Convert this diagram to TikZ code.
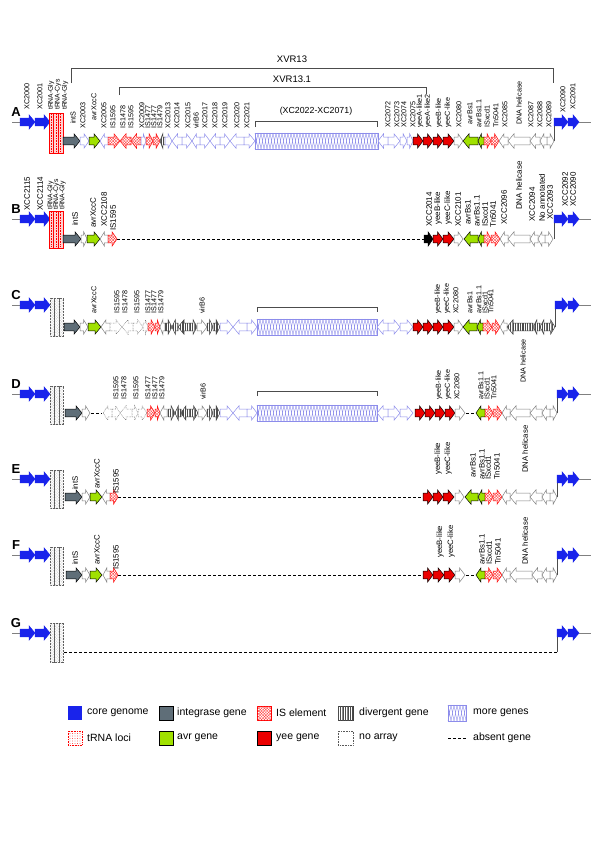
\documentclass[tikz,border=0pt]{standalone}
\usepackage{fontspec}
\setmainfont{Liberation Sans}
\usetikzlibrary{patterns,patterns.meta}
\definecolor{coreblue}{RGB}{25,35,235}
\definecolor{intgray}{RGB}{95,110,120}
\definecolor{avrgreen}{RGB}{160,225,0}
\definecolor{yeered}{RGB}{235,0,0}
\definecolor{lbblue}{RGB}{140,140,235}
\newcounter{lc}
\def\lfs{7}
\newcommand\gn[4][]{%
  \pgfmathsetmacro\gnd{(#3)-(#2)}%
  \pgfmathsetmacro\gnh{(#3)-ifthenelse(abs(\gnd)<11,0.55*\gnd,6*sign(\gnd))}%
  \draw[gene,#1] (#2,#4-3.8) -- (\gnh,#4-3.8) -- (\gnh,#4-7.2) -- (#3,#4) -- (\gnh,#4+7.2) -- (\gnh,#4+3.8) -- (#2,#4+3.8) -- cycle;}
\newcommand\lab[3]{\stepcounter{lc}\node[lbl] (lab\thelc) at (#1,#2) {#3};}
\newcommand\moregenes[3]{%
  \pgfmathtruncatemacro\mgn{((#2)-(#1))/3-1}%
  \foreach \i in {0,...,\mgn}{\draw[lbblue,line width=0.4pt] ({#1+3*\i},#3-8) -- ({#1+3*\i+3},#3+8) ({#1+3*\i},#3+8) -- ({#1+3*\i+3},#3-8);}%
  \draw[lbblue,line width=0.5pt] (#1,#3-8) rectangle (#2,#3+8);}
\newcommand\trnabox[3]{%
  \foreach \k in {0,1,2}{\draw[red,fill=red!18,line width=0.6pt] ({#1+\k*4.67},#2) rectangle ({#1+\k*4.67+4.67},#3);
    \draw[red,densely dotted,line width=0.6pt] ({#1+\k*4.67+2.33},#2+1) -- ({#1+\k*4.67+2.33},#3-1);}}
\newcommand\noarray[3]{%
  \foreach \k in {0,1,2}{\draw[gray!70!black,densely dotted,line width=0.5pt,postaction={pattern={Lines[angle=60,distance=1.4pt,line width=0.3pt]},pattern color=gray!80}] ({#1+\k*4.5},#2) rectangle ({#1+\k*4.5+4.5},#3);}}
\newcommand\corerow[4]{% letter, core y, gene y, right x
  \node[letter] (let#1) at (16,#2-10) {#1};
  \draw[gray,line width=0.5pt] (12,#2) -- (20,#2);
  \gn[gcore]{20}{35}{#2}\gn[gcore]{35}{50}{#2}
  \draw[gray!60!black,line width=0.6pt] (#4,#3) -- (#4,#2);
  \gn[gcore]{#4}{568}{#2}\gn[gcore]{568}{579}{#2}
  \draw[gray,line width=0.5pt] (579,#2) -- (591,#2);}
\begin{document}
\begin{tikzpicture}[x=1pt,y=-1pt,
  gene/.style={line width=0.5pt,line join=miter},
  gcore/.style={fill=coreblue,draw=coreblue},
  gint/.style={fill=intgray,draw=black},
  gavr/.style={fill=avrgreen,draw=black},
  gyee/.style={fill=yeered,draw=black},
  gblk/.style={fill=black,draw=black},
  gwh/.style={fill=white,draw=gray},
  glb/.style={fill=white,draw=lbblue},
  gdot/.style={fill=white,draw=gray!70!black,densely dotted},
  gis/.style={fill=white,draw=red,postaction={pattern={Lines[angle=45,distance=2pt,line width=0.3pt]},pattern color=red!85},postaction={pattern={Lines[angle=-45,distance=2pt,line width=0.3pt]},pattern color=red!85}},
  gdiv/.style={fill=white,draw=black!75,postaction={pattern={Lines[angle=90,distance=1.7pt,line width=0.35pt]},pattern color=black!70}},
  lbl/.style={rotate=90,anchor=west,inner sep=0pt,font=\fontsize{\lfs}{\lfs}\selectfont},
  letter/.style={font=\fontsize{13}{13}\selectfont\bfseries,inner sep=0pt},
  absent/.style={dash pattern=on 3pt off 2pt,line width=0.7pt},
  brk/.style={draw=gray!60!black,line width=0.6pt},
  legtext/.style={anchor=west,inner sep=0pt,font=\fontsize{10.5}{11}\selectfont}]
\useasboundingbox (0,0) rectangle (600,851);
\fill[white] (0,0) rectangle (600,851);

% ---------- brackets row A
\draw[brk] (71,83) -- (71,68) -- (553,68) -- (553,83);
\node[font=\fontsize{9.5}{10}\selectfont] (xvr13) at (292,59) {XVR13};
\draw[brk] (119,95) -- (119,87) -- (426,87) -- (426,94);
\node[font=\fontsize{9.5}{10}\selectfont] (xvr131) at (292,79) {XVR13.1};
\draw[brk] (255,127) -- (255,121) -- (377,121) -- (377,127);
\node[font=\fontsize{8.8}{9}\selectfont] (brA) at (316,111) {(XC2022-XC2071)};

% ---------- Row A
\def\lfs{6.8}
\foreach \x/\y/\t in {51/110/tRNA-Gly, 58/110/tRNA-Cys, 65/110/tRNA-Gly}{\lab{\x}{\y}{\t}}
\def\lfs{7.2}
\corerow{A}{122}{141}{554}
\trnabox{49}{113}{153}
\moregenes{255}{378}{141}
\foreach \s/\a/\b in {gint/63/80, glb/80/89, gavr/89/100, glb/108/100, gis/108/120, gis/131/120, gis/141/131, glb/141/146, gis/146/153, gis/153/160, gdiv/165/160, glb/165/172, glb/182/172, glb/182/192, glb/200/192, glb/200/210, glb/220/210, glb/220/230, glb/244/230, glb/244/255, glb/388/378, glb/388/400, glb/400/407, glb/407/413, gyee/413/423, gyee/423/433, gyee/433/443, gyee/443/454, gwh/454/463, gavr/478/463, gavr/484/478, gis/484/491, gis/491/499, gwh/508/499, gwh/530/508, gwh/540/530, gwh/547/540, gwh/547/554}{\gn[\s]{\a}{\b}{141}}
\foreach \x/\y/\t in {27/110/XC2000, 40/110/XC2001, 73/124/intS, 83/129/XC2003, 94/121/avrXccC, 104/129/XC2005, 113/129/IS1595, 123/129/IS1478, 131/129/IS1595, 142/129/XC2009, 148/129/IS1477, 154/129/IS1477, 160/129/IS1479, 168/129/XC2013, 177/129/XC2014, 188/129/XC2015, 196/129/virB6, 205/129/XC2017, 215/129/XC2018, 225/129/XC2019, 237/129/XC2020, 247/129/XC2021, 388/128/XC2072, 397/128/XC2073, 404/128/XC2074, 413/128/XC2075, 420/128/yeeA-like1, 428/128/yeeA-like2, 439/128/yeeB-like, 448/128/yeeC-like, 459/128/XC2080, 470/125/avrBs1, 479/128/avrBs1.1, 487/128/ISxcd1, 496/128/Tn5041, 505/128/XC2085, 519/125/DNA helicase, 531/128/XC2087, 540/128/XC2088, 549/128/XC2089, 563/113/XC2090, 573/110/XC2091}{\lab{\x}{\y}{\t}}

% ---------- Row B
\def\lfs{6.8}
\foreach \x/\y/\t in {50.5/210/tRNA-Gly, 56.5/210/tRNA-Cys, 62.5/210/tRNA-Gly}{\lab{\x}{\y}{\t}}
\def\lfs{8}
\corerow{B}{219}{239}{554}
\trnabox{49}{211}{248}
\draw[absent] (117,239) -- (424,239);
\foreach \s/\a/\b in {gint/63/81, gwh/81/87, gavr/87/100, gwh/108/100, gis/108/117, gblk/424/433, gyee/433/443, gyee/443/454, gwh/454/463, gavr/478/464, gavr/484/478, gis/484/491, gis/491/500, gwh/508/500, gwh/530/508, gwh/538/530, gwh/545/538, gwh/545/553}{\gn[\s]{\a}{\b}{239}}
\foreach \x/\y/\t in {27/211/XCC2115, 40/211/XCC2114, 75/226/intS, 93/228/avrXccC, 104/227/XCC2108, 113/231/IS1595, 429/227/XCC2014, 438/225/yeeB-like, 448/225/yeeC-like, 458/227/XCC2101, 468/225/avrBs1, 477/227/avrBs1.1, 485/227/ISxcd1, 493/228/Tn5041, 504/225/XCC2096, 519/210/DNA helicase, 532/222/XCC2094, 542/222/No annotated, 550/220/XCC2093, 565/207/XCC2092, 573/207/XCC2090}{\lab{\x}{\y}{\t}}

% ---------- Row C
\def\lfs{7.2}
\corerow{C}{305}{327}{555}
\noarray{50}{298}{336}
\draw[brk] (257,312) -- (257,307) -- (377,307) -- (377,312);
\moregenes{257}{377}{327}
\foreach \s/\a/\b in {gint/64/80, gwh/80/88, gavr/88/101, gwh/110/101, gdot/110/122, gdot/133/122, gdot/133/143, gdot/143/148, gis/148/155, gis/155/160, gwh/165/160, gdiv/165/172, gdiv/178/172, gdiv/190/178, gdiv/190/197, gwh/197/207, gdiv/207/213, gdiv/213/220, glb/220/233, glb/247/233, glb/247/257, glb/388/377, glb/388/400, glb/400/413, gyee/413/423, gyee/423/433, gyee/433/443, gyee/443/454, gwh/454/463, gavr/477/463, gavr/483/477, gis/483/492, gis/492/500, gwh/507/500, gdiv/533/507, gdiv/540/533, gdiv/547/540, gdiv/547/555}{\gn[\s]{\a}{\b}{327}}
\foreach \x/\y/\t in {94/314/avrXccC, 117/314/IS1595, 125/314/IS1478, 137/314/IS1595, 148/314/IS1477, 154/314/IS1477, 161/314/IS1479, 202/314/virB6, 438/314/yeeB-like, 447/314/yeeC-like, 456/314/XC2080, 470/314/avrBs1, 479/314/avrBs1.1, 485/314/ISxcd1, 491/314/Tn5041}{\lab{\x}{\y}{\t}}

% ---------- Row D
\corerow{D}{394}{413}{557}
\noarray{50}{386}{424}
\draw[brk] (257,396) -- (257,391) -- (377,391) -- (377,396);
\moregenes{257}{377}{413}
\draw[absent] (91,413) -- (102,413);
\draw[absent] (466,413) -- (476,413);
\foreach \s/\a/\b in {gint/65/82, gwh/82/90, gdot/112/103, gdot/112/120, gdot/132/120, gdot/132/138, gdot/138/147, gis/147/155, gis/155/160, gwh/167/160, gdiv/168/175, gdiv/181/175, gdiv/190/181, gdiv/190/198, gwh/198/207, gdiv/207/213, gdiv/213/220, glb/220/233, glb/247/233, glb/247/257, glb/388/377, glb/388/400, glb/400/413, gyee/415/425, gyee/425/435, gyee/435/445, gyee/445/455, gwh/455/465, gavr/485/476, gis/485/493, gis/493/502, gwh/510/502, gwh/530/510, gwh/542/530, gwh/550/542, gwh/550/557}{\gn[\s]{\a}{\b}{413}}
\foreach \x/\y/\t in {116/400/IS1595, 124/400/IS1478, 136/400/IS1595, 148/400/IS1477, 155/400/IS1477, 162/400/IS1479, 203/400/virB6, 439/400/yeeB-like, 448/400/yeeC-like, 457/400/XC2080, 481/400/avrBs1.1, 487/400/ISxcd1, 494/400/Tn5041, 523/383/DNA helicase}{\lab{\x}{\y}{\t}}

% ---------- Row E
\def\lfs{7.8}
\corerow{E}{479}{497}{557}
\noarray{50}{470}{508}
\draw[absent] (118,497) -- (423,497);
\foreach \s/\a/\b in {gint/65/82, gwh/82/90, gavr/90/102, gwh/110/102, gis/110/118, gyee/423/433, gyee/433/443, gyee/443/454, gwh/455/464, gavr/478/465, gavr/485/478, gis/485/493, gis/493/502, gwh/510/502, gwh/530/510, gwh/542/530, gwh/550/542, gwh/550/557}{\gn[\s]{\a}{\b}{497}}
\foreach \x/\y/\t in {75/490/intS, 97/489/avrXccC, 116/494/IS1595, 438/475/yeeB-like, 448/475/yeeC-like, 473/478/avrBs1, 482/480/avrBs1.1, 488/480/ISxcd1, 497/480/Tn5041, 525/473/DNA helicase}{\lab{\x}{\y}{\t}}

% ---------- Row F
\corerow{F}{555}{575}{557}
\noarray{50}{547}{585}
\draw[absent] (118,575) -- (423,575);
\draw[absent] (466,575) -- (476,575);
\foreach \s/\a/\b in {gint/66/82, gwh/82/90, gavr/90/102, gwh/110/103, gis/110/118, gyee/423/433, gyee/433/444, gyee/444/455, gwh/455/465, gavr/485/476, gis/485/493, gis/493/502, gwh/510/502, gwh/532/510, gwh/542/532, gwh/550/542, gwh/550/557}{\gn[\s]{\a}{\b}{575}}
\foreach \x/\y/\t in {75/565/intS, 97/565/avrXccC, 116/570/IS1595, 440/558/yeeB-like, 451/558/yeeC-like, 482/565/avrBs1.1, 489/565/ISxcd1, 498/565/Tn5041, 525/565/DNA helicase}{\lab{\x}{\y}{\t}}

% ---------- Row G
\corerow{G}{633}{652}{557}
\noarray{50}{623}{662}
\draw[absent] (64,652) -- (557,652);

% ---------- Legend
\fill[coreblue] (68,706) rectangle (82,720);
\node[legtext] (l1) at (87,713) {core genome};
\draw[fill=intgray,draw=black,line width=0.6pt] (159,706) rectangle (173,720);
\node[legtext] (l2) at (177,713) {integrase gene};
\draw[gis] (257,706) rectangle (271,720);
\node[legtext] (l3) at (276,713) {IS element};
\draw[gdiv] (338,706) rectangle (353,720);
\node[legtext] (l4) at (359,713) {divergent gene};
\moregenes{448}{466}{713}
\node[legtext] (l5) at (473,713) {more genes};
\draw[red,densely dotted,line width=0.6pt,postaction={pattern={Dots[distance=2.5pt,radius=0.35pt]},pattern color=red}] (68,731) rectangle (82,745);
\node[legtext] (l6) at (87,738) {tRNA loci};
\draw[fill=avrgreen,draw=black,line width=0.6pt] (159,731) rectangle (173,745);
\node[legtext] (l7) at (177,738) {avr gene};
\draw[fill=yeered,draw=black,line width=0.6pt] (257,731) rectangle (271,745);
\node[legtext] (l8) at (276,738) {yee gene};
\draw[gray!70!black,densely dotted,line width=0.6pt] (338,731) rectangle (353,745);
\node[legtext] (l9) at (359,738) {no array};
\draw[absent] (448,738) -- (467,738);
\node[legtext] (l10) at (473,738) {absent gene};
\end{tikzpicture}
\end{document}
